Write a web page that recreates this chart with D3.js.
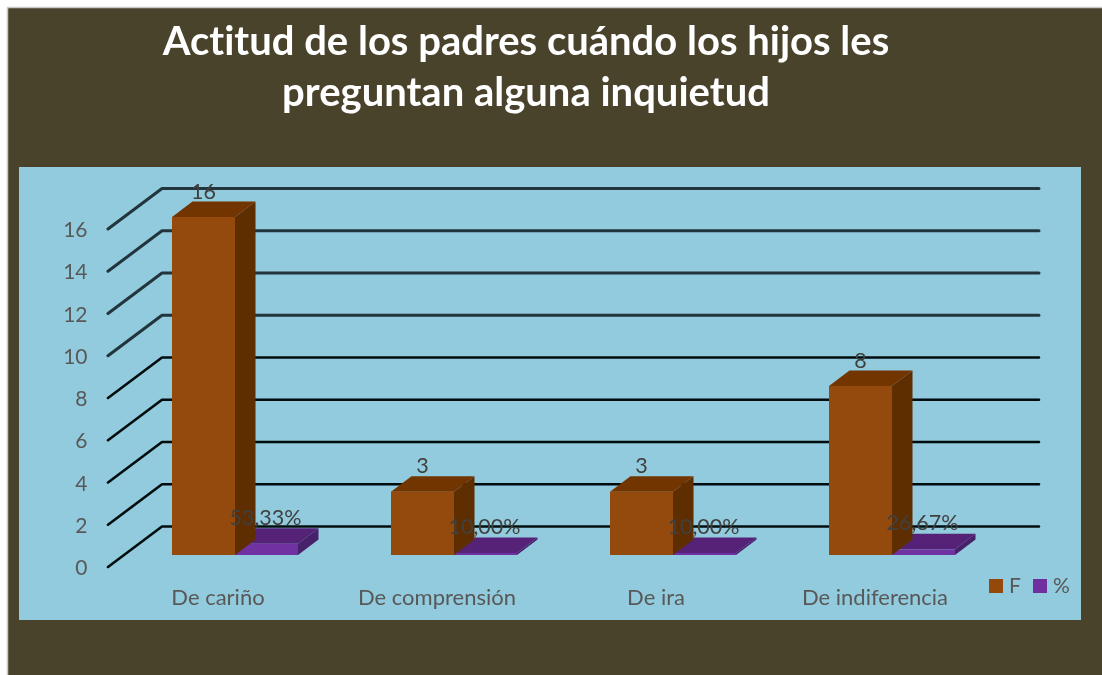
<!DOCTYPE html>
<html>
<head>
<meta charset="utf-8">
<script src="https://d3js.org/d3.v7.min.js"></script>
<style>
html,body{margin:0;padding:0;background:#fff;overflow:hidden}
text{font-family:Lato,"Open Sans",sans-serif;font-variant-ligatures:none}
</style>
</head>
<body>
<div id="chart"></div>
<script>
const categories = ["De cariño", "De comprensión", "De ira", "De indiferencia"];
const seriesF = [16, 3, 3, 8];
const seriesPct = [53.33, 10.00, 10.00, 26.67];
const yTicks = [0, 2, 4, 6, 8, 10, 12, 14, 16];
const titleLines = ["Actitud de los padres cuándo los hijos les", "preguntan alguna inquietud"];
const legendItems = ["F", "%"];

const W = 1102, H = 675;
const svg = d3.select("#chart").append("svg").attr("width", W).attr("height", H).style("display", "block");
const defs = svg.append("defs");
defs.append("filter").attr("id", "soft").append("feGaussianBlur").attr("stdDeviation", 0.6);
defs.append("filter").attr("id", "softText").append("feGaussianBlur").attr("stdDeviation", 0.35);

// background
svg.append("rect").attr("x", 7.5).attr("y", 7.5).attr("width", W).attr("height", H)
  .attr("fill", "#4a432c").attr("stroke", "#c8c8c8").attr("stroke-width", 1.5);
svg.append("rect").attr("x", 19).attr("y", 167).attr("width", 1062).attr("height", 453).attr("fill", "#92cbdd");

// title
svg.append("g").attr("filter", "url(#softText)").selectAll("text").data(titleLines).join("text")
  .attr("x", 526).attr("y", (d, i) => 54.5 + i * 51)
  .attr("text-anchor", "middle").attr("fill", "#fff")
  .attr("font-size", 40).attr("font-weight", 700).text(d => d);

// scales
const yAxisScale = d3.scaleLinear().domain([0, 16]).range([567, 229]);  // front of the floor
const wallDx = 54, wallDy = -40.5, wallEnd = 1039;
const barBase = 555;
const unit = yAxisScale(0) - yAxisScale(1);
const x0 = d3.scaleBand().domain(categories).range([125.5, 1001.5]);
const groupW = 126;
const depthDx = 20.5, depthDy = -15.5;

// gridlines
const grid = svg.append("g").attr("filter", "url(#soft)").attr("fill", "none")
  .attr("stroke-linejoin", "round").attr("stroke-linecap", "round");
grid.selectAll("path").data(yTicks).join("path")
  .attr("d", t => {
    const y = yAxisScale(t);
    return d3.line()([[108, y], [108 + wallDx, y + wallDy], [wallEnd, y + wallDy]]);
  })
  .attr("stroke", t => t >= 10 ? "#24343c" : "#050c10")
  .attr("stroke-width", t => t >= 10 ? 3 : 2.6);

// axes
const textLayer = svg.append("g").attr("filter", "url(#softText)");
const yAxis = d3.axisLeft(yAxisScale).tickValues(yTicks).tickSize(0).tickPadding(0);
const gy = textLayer.append("g").attr("transform", "translate(87.5,1)").call(yAxis);
gy.select(".domain").remove();
gy.selectAll("text").attr("font-size", 21).attr("fill", "#595959").style("font-family", 'Lato,"Open Sans",sans-serif');

const xAxis = d3.axisBottom(x0).tickSize(0).tickPadding(0);
const gx = textLayer.append("g").attr("transform", "translate(-17,589)").call(xAxis);
gx.select(".domain").remove();
gx.selectAll("text").attr("font-size", 22).attr("fill", "#595959").style("font-family", 'Lato,"Open Sans",sans-serif');

// 3D bars
const pctFmt = d3.formatLocale({decimal: ",", thousands: ".", grouping: [3], currency: ["", ""]}).format(".2f");
function bar3d(g, x, w, h, cols) {
  const top = barBase - h;
  g.append("path").attr("fill", cols[2]).attr("d", d3.line()([
    [x + w, top], [x + w + depthDx, top + depthDy], [x + w + depthDx, barBase + depthDy], [x + w, barBase]
  ]) + "Z");
  g.append("path").attr("fill", cols[1]).attr("d", d3.line()([
    [x, top], [x + depthDx, top + depthDy], [x + w + depthDx, top + depthDy], [x + w, top]
  ]) + "Z");
  g.append("rect").attr("x", x).attr("y", top).attr("width", w).attr("height", h).attr("fill", cols[0]);
}
const colF = ["#94480a", "#723404", "#5f2e03"];
const colP = ["#7030a0", "#542478", "#46206a"];
const barsLayer = svg.append("g");
const labelsLayer = svg.append("g").attr("filter", "url(#softText)");
categories.forEach((c, i) => {
  const gx0 = x0(c) + x0.step() / 2 - groupW / 2;
  const w = groupW / 2;
  const hF = seriesF[i] * unit, hP = seriesPct[i] / 100 * unit;
  const g = barsLayer.append("g").attr("filter", "url(#soft)");
  bar3d(g, gx0 + w, w, hP, colP);
  bar3d(g, gx0, w, hF, colF);
  labelsLayer.append("text").attr("x", gx0 + w / 2).attr("y", barBase - hF - 18.5)
    .attr("text-anchor", "middle").attr("font-size", 21.5).attr("fill", "#404040").text(seriesF[i]);
  labelsLayer.append("text").attr("x", gx0 + w * 1.5 - 1).attr("y", barBase - hP - 19)
    .attr("text-anchor", "middle").attr("font-size", 21.5).attr("fill", "#404040").text(pctFmt(seriesPct[i]) + "%");
});

// legend
const legendX = [989, 1033], legendCols = [colF[0], colP[0]];
legendItems.forEach((t, i) => {
  svg.append("rect").attr("x", legendX[i]).attr("y", 579).attr("width", 14).attr("height", 14).attr("fill", legendCols[i]);
  textLayer.append("text").attr("x", legendX[i] + 20).attr("y", 592.5).attr("font-size", 21).attr("fill", "#595959").text(t);
});
</script>
</body>
</html>
